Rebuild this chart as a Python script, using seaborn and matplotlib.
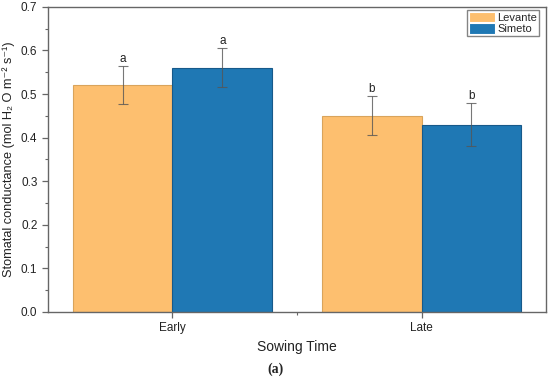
import matplotlib
matplotlib.use("Agg")
import matplotlib.pyplot as plt
import numpy as np
import pandas as pd
import seaborn as sns
from matplotlib.ticker import MultipleLocator

# данные с картинки
sowing = ["Early", "Late"]
cultivars = ["Levante", "Simeto"]
levante_mean = [0.52, 0.45]
simeto_mean = [0.56, 0.43]
levante_err = [0.044, 0.045]
simeto_err = [0.045, 0.049]
levante_letters = ["a", "b"]
simeto_letters = ["a", "b"]

colors = {"Levante": "#FDBF6F", "Simeto": "#1F78B4"}
edges = {"Levante": "#D9A45C", "Simeto": "#17598A"}

sns.set_style("ticks")
plt.rcParams["font.family"] = ["Liberation Sans", "DejaVu Sans"]

df = pd.DataFrame(
    {
        "Sowing Time": sowing * 2,
        "cultivar": ["Levante"] * 2 + ["Simeto"] * 2,
        "value": levante_mean + simeto_mean,
        "err": levante_err + simeto_err,
        "letter": levante_letters + simeto_letters,
    }
)

fig = plt.figure(figsize=(5.5, 3.8), dpi=100)
ax = fig.add_axes([0.087, 0.179, 0.906, 0.803])

sns.barplot(
    data=df, x="Sowing Time", y="value", hue="cultivar", order=sowing,
    hue_order=cultivars, palette=colors, width=0.8, saturation=1,
    errorbar=None, ax=ax, linewidth=0.8,
)

# рамки столбцов, усы и буквы
for container, cult in zip(ax.containers, cultivars):
    sub = df[df["cultivar"] == cult].set_index("Sowing Time").loc[sowing]
    for patch, (_, row) in zip(container.patches, sub.iterrows()):
        patch.set_edgecolor(edges[cult])
        xc = patch.get_x() + patch.get_width() / 2
        ax.errorbar(xc, row["value"], yerr=row["err"], fmt="none",
                    ecolor="#555555", elinewidth=0.8, capsize=3.5, capthick=0.8,
                    alpha=0.8)
        ax.text(xc, row["value"] + row["err"] + 0.003, row["letter"],
                ha="center", va="bottom", fontsize=8.5, color="#222222")

ax.set_xlim(-0.5, 1.5)
ax.set_ylim(0, 0.7)
ax.yaxis.set_major_locator(MultipleLocator(0.1))
ax.yaxis.set_minor_locator(MultipleLocator(0.05))
ax.set_xticks([0.5], minor=True)
ax.yaxis.set_major_formatter(matplotlib.ticker.FormatStrFormatter("%.1f"))

for side in ["top", "right", "left", "bottom"]:
    ax.spines[side].set_visible(True)
    ax.spines[side].set_color("#666666")
    ax.spines[side].set_linewidth(1.0)
ax.tick_params(axis="both", which="major", length=4, width=0.9, color="#666666",
               labelsize=8.5, labelcolor="#222222")
ax.tick_params(axis="both", which="minor", length=2.5, width=0.8, color="#666666")

ax.set_ylabel("Stomatal conductance (mol H\u2082 O m\u207b\u00b2 s\u207b\u00b9)",
              fontsize=9.2, color="#222222", labelpad=4)
ax.set_xlabel("Sowing Time", fontsize=10, color="#222222", labelpad=4)

leg = ax.legend(loc="upper right", bbox_to_anchor=(0.99, 0.997), frameon=True,
                fancybox=False, edgecolor="#666666", fontsize=8,
                handlelength=2.3, handleheight=1.1, handletextpad=0.25,
                borderpad=0.15, labelspacing=0.05, borderaxespad=0.2)
leg.get_frame().set_linewidth(1.0)

fig.text(0.5, 0.028, "(a)", ha="center", va="center", fontsize=10,
         family="Liberation Serif", fontweight="bold")

fig.savefig("out.png", dpi=100)
